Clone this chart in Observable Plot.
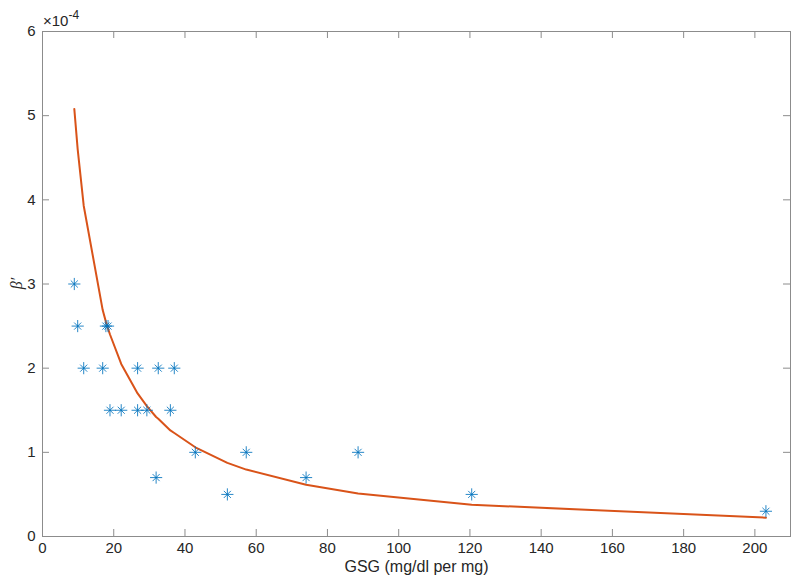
<!DOCTYPE html>
<html>
<head>
<meta charset="utf-8">
<script src="https://cdn.jsdelivr.net/npm/d3@7"></script>
<script src="https://cdn.jsdelivr.net/npm/@observablehq/plot@0.6"></script>
<style>
  html, body { margin: 0; padding: 0; background: #fff; }
  #chart svg { display: block; }
</style>
</head>
<body>
<div id="chart"></div>
<script>
// Observed data points (GSG, beta')
const gsg = [8.93, 9.88, 11.57, 16.9, 17.8, 18.4, 18.95, 22.1, 26.7, 26.7, 29.3, 31.9, 32.5, 35.9, 37.0, 42.9, 51.9, 57.2, 74.0, 88.6, 120.5, 203.1];
const beta = [3.0e-4, 2.5e-4, 2.0e-4, 2.0e-4, 2.5e-4, 2.5e-4, 1.5e-4, 1.5e-4, 2.0e-4, 1.5e-4, 1.5e-4, 0.7e-4, 2.0e-4, 1.5e-4, 2.0e-4, 1.0e-4, 0.5e-4, 1.0e-4, 0.7e-4, 1.0e-4, 0.5e-4, 0.3e-4];

// Fitted curve
const fitX = [8.93, 9.88, 11.57, 16.9, 17.8, 18.4, 18.95, 22.1, 26.7, 29.3, 31.9, 32.5, 35.9, 37.0, 42.9, 51.9, 57.2, 74.0, 88.6, 120.5, 203.1];
const fitY = [5.08e-4, 4.6e-4, 3.93e-4, 2.69e-4, 2.55e-4, 2.47e-4, 2.40e-4, 2.05e-4, 1.70e-4, 1.55e-4, 1.42e-4, 1.40e-4, 1.26e-4, 1.23e-4, 1.06e-4, 0.875e-4, 0.795e-4, 0.615e-4, 0.51e-4, 0.377e-4, 0.224e-4];

// Ticks
const xTicks = [0, 20, 40, 60, 80, 100, 120, 140, 160, 180, 200];
const yTicks = [0, 1e-4, 2e-4, 3e-4, 4e-4, 5e-4, 6e-4];

const points = gsg.map((x, i) => ({x, y: beta[i]}));
const curve = fitX.map((x, i) => ({x, y: fitY[i]}));

const W = 800, H = 586;
const mL = 42, mR = 10, mT = 31, mB = 50;
const innerW = W - mL - mR, innerH = H - mT - mB;
const tickLen = 7;
const frameColor = "#8c8c8c";
const textColor = "#262626";
const blue = "#0072BD";
const orange = "#D95319";

const chart = Plot.plot({
  width: W,
  height: H,
  marginLeft: mL,
  marginRight: mR,
  marginTop: mT,
  marginBottom: mB,
  style: {fontFamily: "'Liberation Sans', Arial, Helvetica, sans-serif", fontSize: "15px", color: textColor, background: "#fff"},
  x: {domain: [0, 210]},
  y: {domain: [0, 6e-4]},
  marks: [
    Plot.frame({stroke: frameColor, strokeWidth: 1}),
    // inward ticks on all four sides
    Plot.tickX(xTicks, {x: d => d, insetTop: innerH - tickLen, stroke: frameColor}),
    Plot.tickX(xTicks, {x: d => d, insetBottom: innerH - tickLen, stroke: frameColor}),
    Plot.tickY(yTicks, {y: d => d, insetRight: innerW - tickLen, stroke: frameColor}),
    Plot.tickY(yTicks, {y: d => d, insetLeft: innerW - tickLen, stroke: frameColor}),
    Plot.axisX(xTicks, {tickSize: 0, tickPadding: 6, label: null, fill: textColor, fontSize: 15}),
    Plot.axisY(yTicks, {tickSize: 0, tickPadding: 7, label: null, fill: textColor, fontSize: 15, tickFormat: d => String(Math.round(d * 1e4))}),
    Plot.line(curve, {x: "x", y: "y", stroke: orange, strokeWidth: 2}),
    Plot.dot(points, {x: "x", y: "y", symbol: "plus", r: 4, stroke: blue, strokeWidth: 1, strokeOpacity: 0.85}),
    Plot.dot(points, {x: "x", y: "y", symbol: "times", r: 3.3, stroke: blue, strokeWidth: 1, strokeOpacity: 0.85}),
    Plot.text(["GSG (mg/dl per mg)"], {frameAnchor: "bottom", dy: 30, lineAnchor: "middle", fill: textColor, fontSize: 16})
  ]
});

const svg = d3.select(chart);

// y-axis label β′
svg.append("text")
  .attr("transform", `translate(22, ${mT + innerH / 2}) rotate(-90)`)
  .attr("text-anchor", "middle")
  .attr("fill", textColor)
  .style("font-family", "'Liberation Serif', 'DejaVu Serif', serif")
  .style("font-style", "italic")
  .style("font-size", "16px")
  .text("β′");

// exponent label ×10^-4 at top-left of the axes
const t = svg.append("text")
  .attr("x", mL + 1)
  .attr("y", mT - 5)
  .attr("text-anchor", "start")
  .attr("fill", textColor)
  .style("font-family", "'Liberation Sans', Arial, Helvetica, sans-serif")
  .style("font-size", "15px");
t.append("tspan").text("×10");
t.append("tspan").attr("dy", -7).style("font-size", "12px").text("-4");

document.getElementById("chart").appendChild(chart);
</script>
</body>
</html>
